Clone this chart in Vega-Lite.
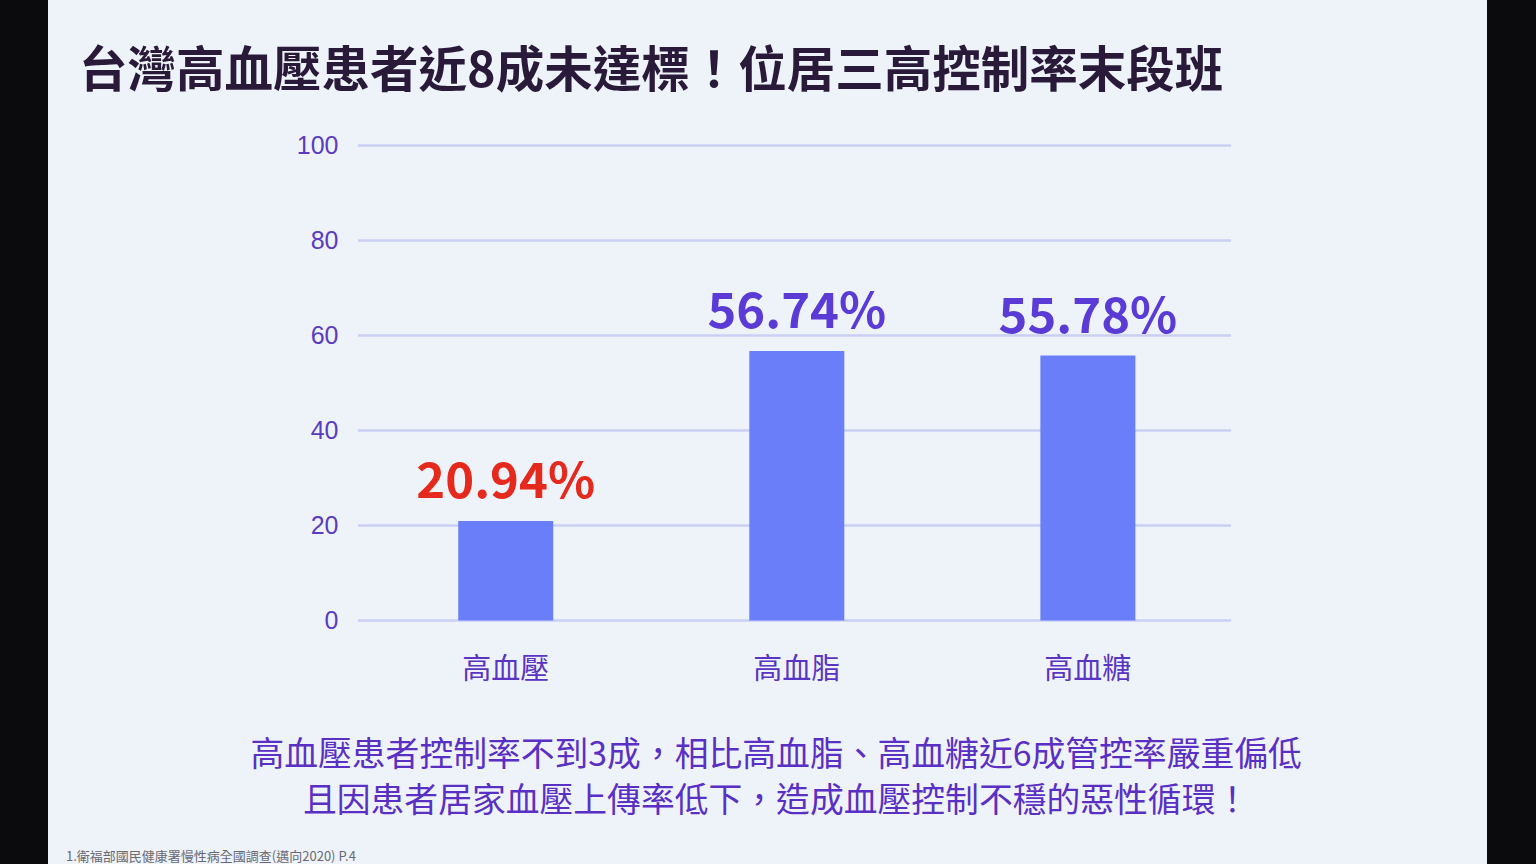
{
  "$schema": "https://vega.github.io/schema/vega-lite/v6.json",
  "width": 1439,
  "height": 864,
  "autosize": {"type": "none"},
  "padding": {"left": 48, "right": 49, "top": 0, "bottom": 0},
  "background": "#0b0b0d",
  "config": {
    "view": {"fill": "#eef3f9", "stroke": null},
    "font": "Noto Sans CJK TC"
  },
  "datasets": {
    "bars": [
      {"category": "高血壓", "value": 20.94, "label": "20.94%"},
      {"category": "高血脂", "value": 56.74, "label": "56.74%"},
      {"category": "高血糖", "value": 55.78, "label": "55.78%"}
    ],
    "grid": [{"v": 0}, {"v": 20}, {"v": 40}, {"v": 60}, {"v": 80}, {"v": 100}]
  },
  "layer": [
    {
      "data": {"name": "grid"},
      "mark": {"type": "rule", "color": "#cacff3", "strokeWidth": 2.5, "xOffset": -147.7, "x2Offset": 143.2},
      "encoding": {
        "y": {
          "field": "v",
          "type": "quantitative",
          "scale": {"domain": [-51.26, 130.63], "nice": false, "zero": false},
          "axis": {
            "title": null,
            "orient": "left",
            "offset": -310,
            "values": [0, 20, 40, 60, 80, 100],
            "domain": false,
            "ticks": false,
            "grid": false,
            "labelFontSize": 25,
            "labelColor": "#5a3cbf",
            "labelPadding": 20,
            "labelFont": "Liberation Sans",
            "zindex": 2
          }
        },
        "x": {
          "datum": "高血壓",
          "type": "nominal",
          "bandPosition": 0.5,
          "scale": {
            "domain": ["高血壓", "高血脂", "高血糖"],
            "range": [312.2, 1185.4],
            "paddingInner": 0.6736,
            "paddingOuter": 0.3368,
            "align": 0.5
          },
          "axis": {
            "title": null,
            "orient": "bottom",
            "offset": -243.5,
            "domain": false,
            "ticks": false,
            "grid": false,
            "labelAngle": 0,
            "labelFontSize": 29,
            "labelColor": "#5a34c2",
            "labelPadding": 35,
            "labelFont": "Noto Sans CJK TC",
            "zindex": 2
          }
        },
        "x2": {"datum": "高血糖", "bandPosition": 0.5}
      }
    },
    {
      "data": {"name": "bars"},
      "mark": {"type": "bar", "color": "#6a7ef9"},
      "encoding": {
        "x": {"field": "category", "type": "nominal"},
        "y": {"field": "value", "type": "quantitative"}
      }
    },
    {
      "data": {"name": "bars"},
      "mark": {"type": "text", "fontSize": 49, "fontWeight": "bold", "baseline": "alphabetic", "dy": -23, "font": "Noto Sans CJK TC"},
      "encoding": {
        "x": {"field": "category", "type": "nominal"},
        "y": {"field": "value", "type": "quantitative"},
        "text": {"field": "label"},
        "color": {
          "condition": {"test": "datum.category === '高血壓'", "value": "#e5291d"},
          "value": "#5a3bd6"
        }
      }
    },
    {
      "data": {"values": [{}]},
      "mark": {"type": "text", "fontSize": 48.5, "fontWeight": "bold", "align": "left", "baseline": "alphabetic", "color": "#2a1a3a", "xOffset": -426.7},
      "encoding": {
        "x": {"datum": "高血壓", "type": "nominal"},
        "y": {"datum": 112.3, "type": "quantitative"},
        "text": {"value": "台灣高血壓患者近8成未達標！位居三高控制率末段班"}
      }
    },
    {
      "data": {"values": [{}]},
      "mark": {"type": "text", "fontSize": 33.8, "align": "center", "baseline": "alphabetic", "color": "#5a2fc4", "lineBreak": "\n", "lineHeight": 46, "xOffset": -20.7},
      "encoding": {
        "x": {"datum": "高血脂", "type": "nominal"},
        "y": {"datum": -30.6, "type": "quantitative"},
        "text": {"value": "高血壓患者控制率不到3成，相比高血脂、高血糖近6成管控率嚴重偏低\n且因患者居家血壓上傳率低下，造成血壓控制不穩的惡性循環！"}
      }
    },
    {
      "data": {"values": [{}]},
      "mark": {"type": "text", "fontSize": 13, "align": "left", "baseline": "alphabetic", "color": "#6a6a72", "xOffset": -439.7},
      "encoding": {
        "x": {"datum": "高血壓", "type": "nominal"},
        "y": {"datum": -50.7, "type": "quantitative"},
        "text": {"value": "1.衛福部國民健康署慢性病全國調查(邁向2020) P.4"}
      }
    }
  ]
}
